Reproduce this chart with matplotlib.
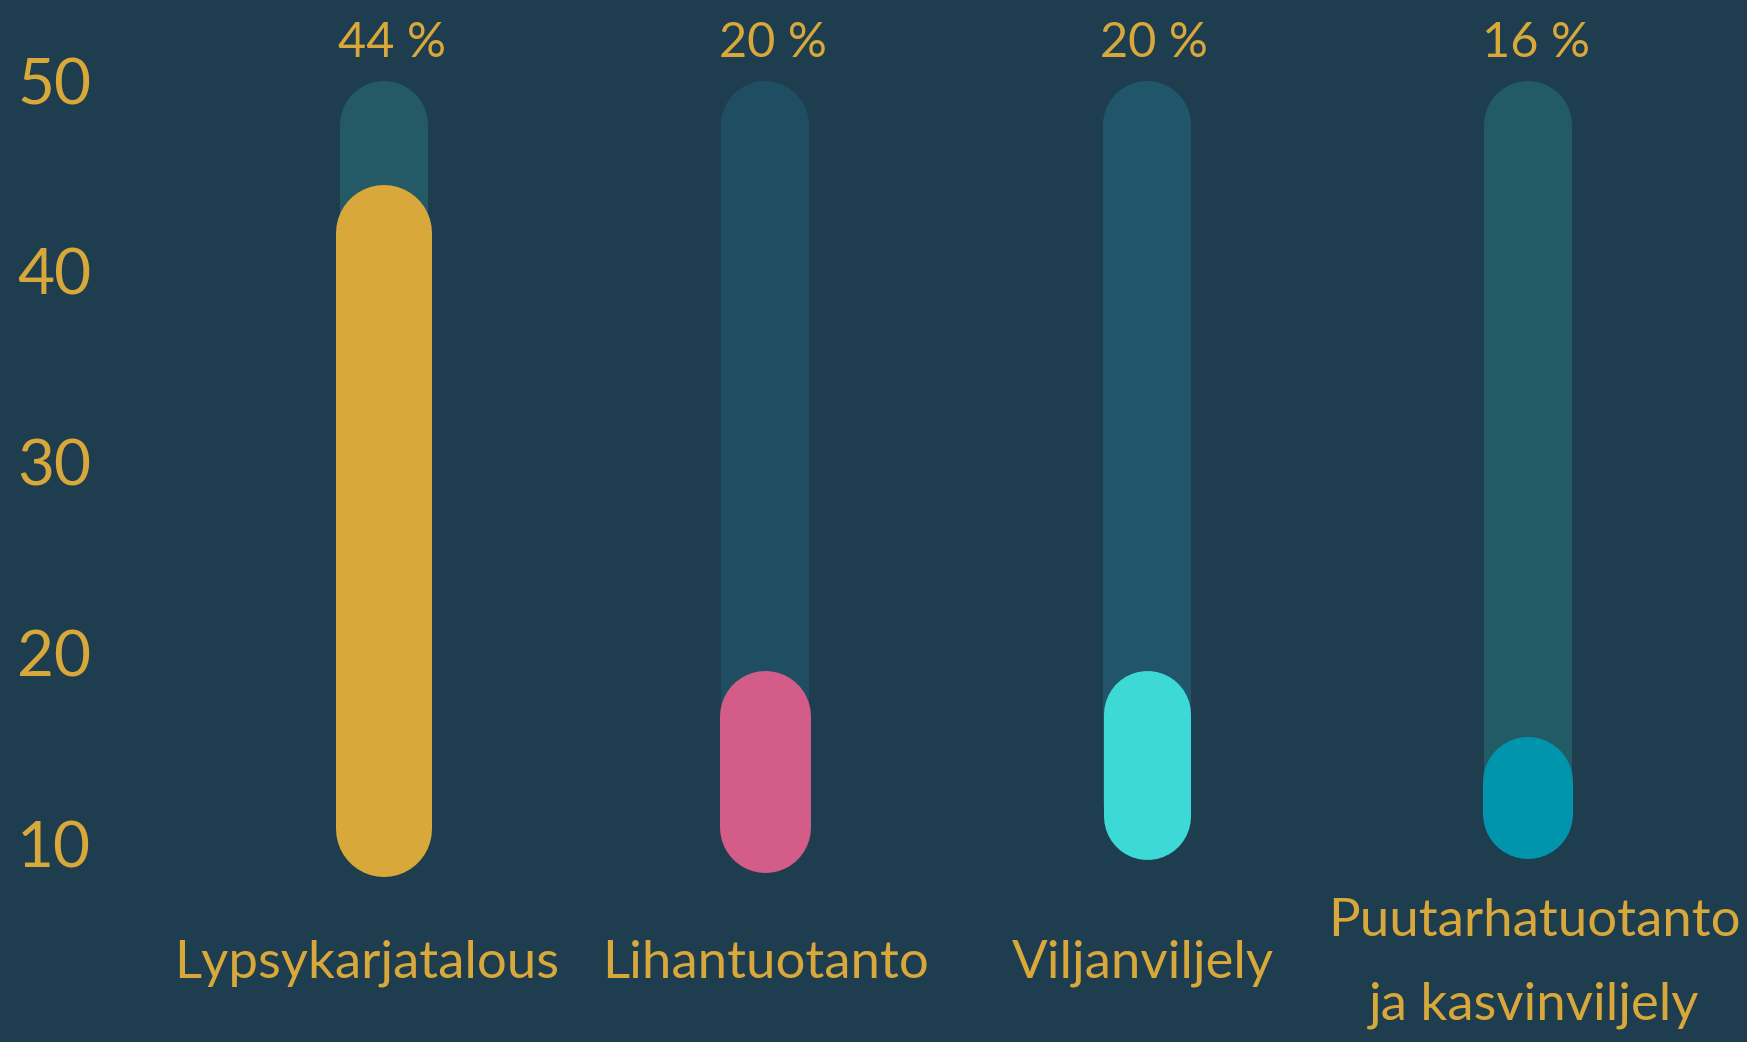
import matplotlib
matplotlib.use('Agg')
import matplotlib.pyplot as plt

# values
categories = ['Lypsykarjatalous', 'Lihantuotanto', 'Viljanviljely',
              'Puutarhatuotanto\nja kasvinviljely']
shares = [44, 20, 20, 16]                 # printed percentages
bar_tops = [44.5, 19.1, 19.1, 15.6]       # top of each coloured pill
bar_bottoms = [8.3, 8.5, 9.2, 9.2]        # bottom of each coloured pill
track_top = 50
track_bottom = 10
yticks = [10, 20, 30, 40, 50]

BG = '#1e3d4e'
GOLD = '#d8a83b'
bar_colors = ['#d8a83b', '#d45c88', '#3dd9d6', '#0095ad']
track_colors = ['#235a66', '#1f4e63', '#21566a', '#225a66']
bar_widths_px = [96, 91, 87, 90]
track_width_px = 88
label_dx_px = [-17, 0, -4, 6]   # small nudges of the category labels

plt.rcParams['font.family'] = ['Lato', 'DejaVu Sans']

W, H, DPI = 1747, 1042, 100
fig = plt.figure(figsize=(W / DPI, H / DPI), dpi=DPI, facecolor=BG)
left = 110
ax = fig.add_axes([left / W, 0, 1 - left / W, 1])
ax.set_facecolor(BG)
ax.set_xlim(-0.7185, 3.5744)
ax.set_ylim(-0.367, 54.217)
for s in ax.spines.values():
    s.set_visible(False)

# pixels per data unit, to turn pill widths into cap radii
px_per_y = H / (ax.get_ylim()[1] - ax.get_ylim()[0])
px_per_x = (W - left) / (ax.get_xlim()[1] - ax.get_xlim()[0])


def pill(x, lo, hi, width_px, color, z):
    r = width_px / 2 / px_per_y
    ax.plot([x, x], [lo + r, hi - r], color=color, lw=width_px * 72 / DPI,
            solid_capstyle='round', zorder=z)


for i in range(len(categories)):
    pill(i, track_bottom, track_top, track_width_px, track_colors[i], 1)
    pill(i, bar_bottoms[i], bar_tops[i], bar_widths_px[i], bar_colors[i], 2)
    ax.text(i + 0.02, 51.95, f'{shares[i]} %', color=GOLD, fontsize=35,
            ha='center', va='center')
    ax.text(i + label_dx_px[i] / px_per_x, 3.75, categories[i], color=GOLD,
            fontsize=38, ha='center', va='center', linespacing=1.95)

ax.set_xticks([])
ax.set_yticks(yticks)
ax.set_yticklabels([str(t) for t in yticks])
ax.tick_params(axis='y', length=0, pad=13.7, labelsize=46, labelcolor=GOLD)

fig.savefig('out.png', dpi=DPI, facecolor=BG)
